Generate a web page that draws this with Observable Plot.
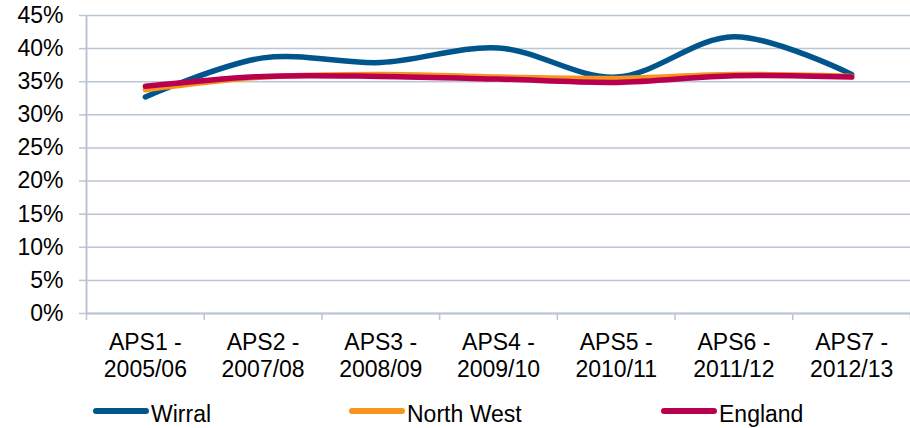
<!DOCTYPE html>
<html>
<head>
<meta charset="utf-8">
<script src="https://cdn.jsdelivr.net/npm/d3@7"></script>
<script src="https://cdn.jsdelivr.net/npm/@observablehq/plot@0.6"></script>
<style>
  html, body { margin: 0; padding: 0; background: #fff; }
  body { width: 910px; height: 428px; overflow: hidden; font-family: "Liberation Sans", Arial, sans-serif; }
  #legend { position: relative; width: 910px; height: 38px; }
  .item { position: absolute; top: 0; height: 38px; }
  .sw { position: absolute; top: 18px; width: 56px; height: 6px; border-radius: 3px; }
  .lab { position: absolute; top: 13px; font-size: 23px; line-height: 23px; color: #000; white-space: nowrap; }
</style>
</head>
<body>
<div id="chart"></div>
<div id="legend"></div>
<script>
const categories = ["APS1 -\n2005/06", "APS2 -\n2007/08", "APS3 -\n2008/09", "APS4 -\n2009/10", "APS5 -\n2010/11", "APS6 -\n2011/12", "APS7 -\n2012/13"];
const wirral    = [0.327, 0.386, 0.379, 0.401, 0.357, 0.418, 0.361];
const northWest = [0.338, 0.357, 0.361, 0.357, 0.355, 0.361, 0.358];
const england   = [0.343, 0.358, 0.358, 0.354, 0.349, 0.359, 0.357];
const seriesNames = ["Wirral", "North West", "England"];
const seriesColors = ["#00558c", "#f7941d", "#b8004f"];
const yTicks = [0, 0.05, 0.10, 0.15, 0.20, 0.25, 0.30, 0.35, 0.40, 0.45];

const seriesValues = [wirral, northWest, england];
const rows = [];
seriesNames.forEach((s, k) => seriesValues[k].forEach((v, i) => rows.push({i, series: s, value: v})));
const idx = d3.range(categories.length);
const bounds = d3.range(categories.length + 1).map(d => d - 0.5);
const gridColor = "#bac6d4";

const chart = Plot.plot({
  width: 910,
  height: 390,
  marginLeft: 86,
  marginRight: 0,
  marginTop: 15,
  marginBottom: 77,
  style: {fontFamily: "'Liberation Sans', Arial, sans-serif", fontSize: "23px", color: "#000", background: "#fff"},
  x: {type: "linear", domain: [-0.5, categories.length - 0.5]},
  y: {domain: [0, 0.45]},
  color: {domain: seriesNames, range: seriesColors},
  marks: [
    Plot.gridY(yTicks, {stroke: gridColor, strokeOpacity: 1, strokeWidth: 1.5}),
    Plot.ruleX([-0.5], {stroke: gridColor, strokeWidth: 2}),
    Plot.ruleY([0], {stroke: gridColor, strokeWidth: 2}),
    Plot.axisY(yTicks, {tickFormat: d3.format(".0%"), tickSize: 7, tickPadding: 16, stroke: gridColor, strokeWidth: 1.5, fill: "#000", fontSize: 23, label: null}),
    Plot.axisX(bounds, {tickSize: 7, tickFormat: () => "", stroke: gridColor, strokeWidth: 1.5, label: null}),
    Plot.axisX(idx, {tickSize: 0, tickPadding: 18, tickFormat: i => categories[i], lineHeight: 1.16, fill: "#000", fontSize: 23, label: null}),
    Plot.line(rows, {x: "i", y: "value", z: "series", stroke: "series", curve: "catmull-rom", strokeWidth: 5.5, strokeLinecap: "round", strokeLinejoin: "round"})
  ]
});
document.getElementById("chart").appendChild(chart);

const legendPos = [93, 349, 661];
const legend = document.getElementById("legend");
seriesNames.forEach((s, k) => {
  const item = document.createElement("div");
  item.className = "item";
  item.style.left = legendPos[k] + "px";
  const sw = document.createElement("div");
  sw.className = "sw";
  sw.style.background = seriesColors[k];
  sw.style.left = "0px";
  const lab = document.createElement("div");
  lab.className = "lab";
  lab.style.left = "58px";
  lab.textContent = s;
  item.appendChild(sw);
  item.appendChild(lab);
  legend.appendChild(item);
});
</script>
</body>
</html>
